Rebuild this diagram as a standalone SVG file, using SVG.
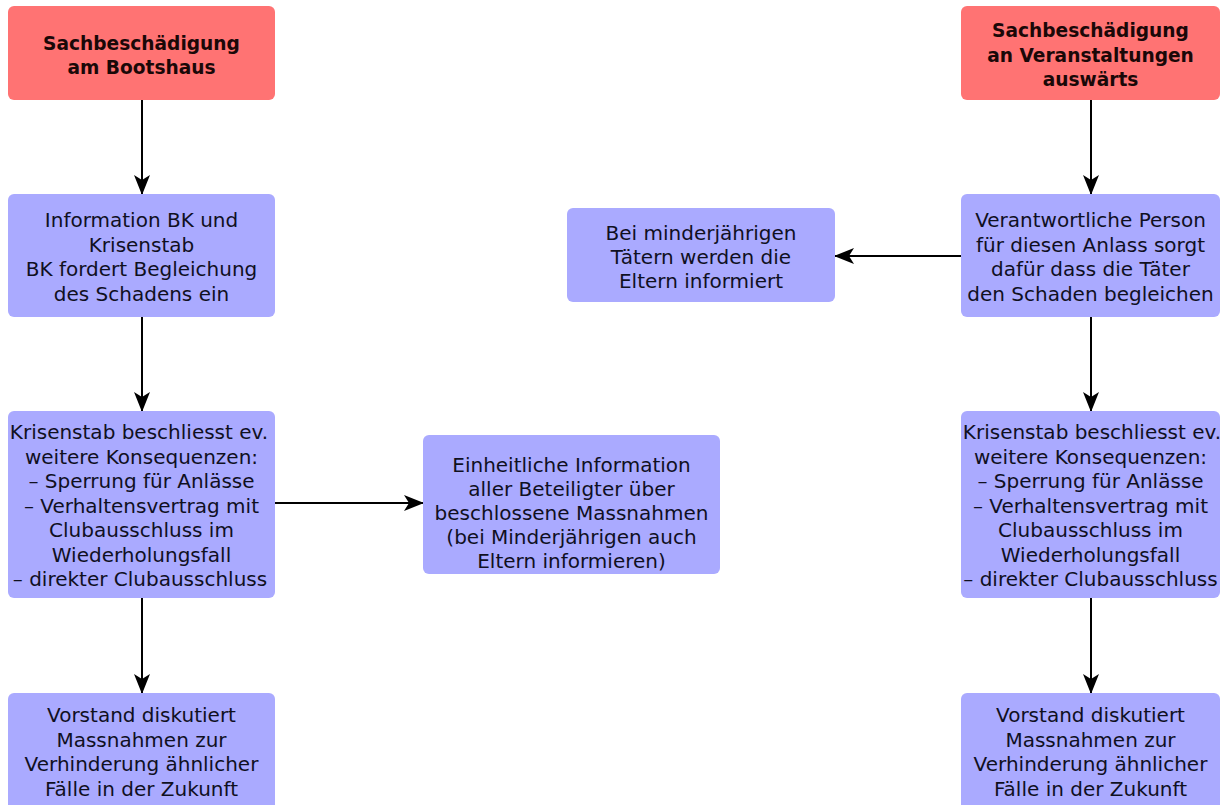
<svg xmlns="http://www.w3.org/2000/svg" width="1226" height="805" viewBox="0 0 1226 805">
<defs>
<style>
.red{fill:#FF7373;}
.blue{fill:#AAAAFF;}
text{font-family:"DejaVu Sans",Verdana,sans-serif;font-size:20px;fill:#10101f;text-anchor:middle;}
.b{font-weight:bold;font-size:18.6px;fill:#1a0808;}
.c{stroke:#000;stroke-width:2;fill:none;marker-end:url(#ah);}
</style>
<marker id="ah" markerUnits="userSpaceOnUse" viewBox="0 0 20 16" refX="19" refY="8" markerWidth="20" markerHeight="16" orient="auto">
<path d="M0,0 L20,8 L0,16 L5,8 z" fill="#000"/>
</marker>
</defs>
<rect width="1226" height="805" fill="#fff"/>
<g id="connectors">
<line class="c" x1="142" y1="100" x2="142" y2="194"/>
<line class="c" x1="142" y1="317" x2="142" y2="411"/>
<line class="c" x1="142" y1="598" x2="142" y2="693"/>
<line class="c" x1="275" y1="503" x2="423" y2="503"/>
<line class="c" x1="1091" y1="100" x2="1091" y2="194"/>
<line class="c" x1="1091" y1="317" x2="1091" y2="411"/>
<line class="c" x1="1091" y1="598" x2="1091" y2="693"/>
<line class="c" x1="961" y1="256" x2="835" y2="256"/>
</g>
<g id="n1">
<rect class="red" x="8" y="6" width="267" height="94" rx="6"/>
<text class="b" x="141.5" y="50">Sachbeschädigung</text>
<text class="b" x="141.5" y="74">am Bootshaus</text>
</g>
<g id="n2">
<rect class="blue" x="8" y="194" width="267" height="123" rx="6"/>
<text x="141.5" y="227">Information BK und</text>
<text x="141.5" y="251.5">Krisenstab</text>
<text x="141.5" y="276">BK fordert Begleichung</text>
<text x="141.5" y="300.5">des Schadens ein</text>
</g>
<g id="n3">
<rect class="blue" x="8" y="411" width="267" height="187" rx="6"/>
<text x="139" y="439">Krisenstab beschliesst ev.</text>
<text x="141.5" y="463.5">weitere Konsequenzen:</text>
<text x="141.5" y="488">– Sperrung für Anlässe</text>
<text x="141.5" y="512.5">– Verhaltensvertrag mit</text>
<text x="141.5" y="537">Clubausschluss im</text>
<text x="141.5" y="561.5">Wiederholungsfall</text>
<text x="140" y="586">– direkter Clubausschluss</text>
</g>
<g id="n4">
<rect class="blue" x="8" y="693" width="267" height="125" rx="6"/>
<text x="141.5" y="722">Vorstand diskutiert</text>
<text x="141.5" y="746.5">Massnahmen zur</text>
<text x="141.5" y="771">Verhinderung ähnlicher</text>
<text x="141.5" y="795.5">Fälle in der Zukunft</text>
</g>
<g id="n5">
<rect class="blue" x="423" y="435" width="297" height="139" rx="6"/>
<text x="571.5" y="472">Einheitliche Information</text>
<text x="571.5" y="496">aller Beteiligter über</text>
<text x="571.5" y="520">beschlossene Massnahmen</text>
<text x="571.5" y="544">(bei Minderjährigen auch</text>
<text x="571.5" y="568">Eltern informieren)</text>
</g>
<g id="n6">
<rect class="red" x="961" y="6" width="259" height="94" rx="6"/>
<text class="b" x="1090.5" y="37">Sachbeschädigung</text>
<text class="b" x="1090.5" y="61.5">an Veranstaltungen</text>
<text class="b" x="1090.5" y="86">auswärts</text>
</g>
<g id="n7">
<rect class="blue" x="961" y="194" width="259" height="123" rx="6"/>
<text x="1090.5" y="227">Verantwortliche Person</text>
<text x="1090.5" y="251.5">für diesen Anlass sorgt</text>
<text x="1090.5" y="276">dafür dass die Täter</text>
<text x="1090.5" y="300.5">den Schaden begleichen</text>
</g>
<g id="n8">
<rect class="blue" x="567" y="208" width="268" height="94" rx="6"/>
<text x="701" y="240">Bei minderjährigen</text>
<text x="701" y="264">Tätern werden die</text>
<text x="701" y="288">Eltern informiert</text>
</g>
<g id="n9">
<rect class="blue" x="961" y="411" width="259" height="187" rx="6"/>
<text x="1092" y="439">Krisenstab beschliesst ev.</text>
<text x="1090.5" y="463.5">weitere Konsequenzen:</text>
<text x="1090.5" y="488">– Sperrung für Anlässe</text>
<text x="1090.5" y="512.5">– Verhaltensvertrag mit</text>
<text x="1090.5" y="537">Clubausschluss im</text>
<text x="1090.5" y="561.5">Wiederholungsfall</text>
<text x="1090.5" y="586">– direkter Clubausschluss</text>
</g>
<g id="n10">
<rect class="blue" x="961" y="693" width="259" height="125" rx="6"/>
<text x="1090.5" y="722">Vorstand diskutiert</text>
<text x="1090.5" y="746.5">Massnahmen zur</text>
<text x="1090.5" y="771">Verhinderung ähnlicher</text>
<text x="1090.5" y="795.5">Fälle in der Zukunft</text>
</g>
</svg>
